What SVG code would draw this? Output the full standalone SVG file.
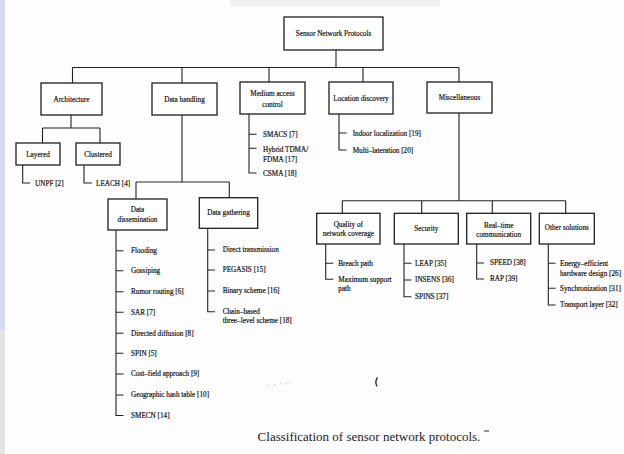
<svg xmlns="http://www.w3.org/2000/svg" width="624" height="454" viewBox="0 0 624 454">
<style>
.box{fill:#fff;stroke:#1e1e1e;stroke-width:1.3}
.ln{fill:none;stroke:#222;stroke-width:1.1}
text{font-family:"Liberation Serif","Times New Roman",serif;font-size:7.2px;fill:#111;stroke:#111;stroke-width:0.18}
.c{text-anchor:middle}
.cap{font-size:13px;fill:#222;stroke:none}
</style>
<rect width="624" height="454" fill="#fdfdfd"/>
<rect x="0" y="0" width="5" height="330" fill="#d6daf2"/>
<rect x="0" y="330" width="5" height="124" fill="#e4e4e4"/>
<rect x="230" y="0" width="210" height="6" fill="#f0f0f0"/>
<g id="connectors">
<path class="ln" d="M336 50V67.5M72.5 67.5H459M72.5 67.5V83M182 67.5V83M269 67.5V82M363 67.5V82M459 67.5V82"/>
<path class="ln" d="M71 115V128M42.5 128H100M42.5 128V143M100 128V143"/>
<path class="ln" d="M22.7 165V183H30M84 165V183H92"/>
<path class="ln" d="M249 114V173H256.5M249 134.3H256.5M249 148.3H256.5"/>
<path class="ln" d="M339 114V150H346.5M339 133H346.5"/>
<path class="ln" d="M182 115V182M136 182H229.3M136 182V199M229.3 182V197.7"/>
<path class="ln" d="M116 230V415.5H123.5M116 250.7H123.5M116 270.7H123.5M116 291.7H123.5M116 312.3H123.5M116 333.3H123.5M116 353.3H123.5M116 374H123.5M116 395H123.5"/>
<path class="ln" d="M207.7 228.3V311.7H215M207.7 250H215M207.7 270H215M207.7 291H215"/>
<path class="ln" d="M459 113V200.7M342.3 200.7H565.7M342.3 200.7V213.3M421.7 200.7V213.3M492.3 200.7V213.3M565.7 200.7V213.3"/>
<path class="ln" d="M325.7 244V279.3H333.3M325.7 263.3H333.3"/>
<path class="ln" d="M404 244V296.7H411.5M404 263.3H411.5M404 280H411.5"/>
<path class="ln" d="M476.7 244V279H484M476.7 263H484"/>
<path class="ln" d="M548.3 244V305H555.5M548.3 263.3H555.5M548.3 288.3H555.5"/>
</g>
<g id="root"><rect class="box" x="284" y="17" width="99" height="33"/><text class="c" x="333.5" y="36">Sensor Network Protocols</text></g>
<g id="architecture"><rect class="box" x="41" y="83" width="61" height="32"/><text class="c" x="71.5" y="101.5">Architecture</text></g>
<g id="data-handling"><rect class="box" x="152" y="83" width="65" height="32"/><text class="c" x="184.5" y="101.5">Data handling</text></g>
<g id="mac"><rect class="box" x="240" y="82" width="65" height="32"/><text class="c" x="272.5" y="95.7">Medium access</text><text class="c" x="272.5" y="107.4">control</text></g>
<g id="location"><rect class="box" x="329" y="82" width="64" height="32"/><text class="c" x="361" y="100.5">Location discovery</text></g>
<g id="misc"><rect class="box" x="427" y="82" width="65" height="31"/><text class="c" x="459.5" y="100">Miscellaneous</text></g>
<g id="layered"><rect class="box" x="16" y="143" width="44" height="22"/><text class="c" x="38" y="156.7">Layered</text></g>
<g id="clustered"><rect class="box" x="76" y="143" width="44" height="22"/><text class="c" x="98" y="156.7">Clustered</text></g>
<g id="architecture-items"><text x="35" y="185.5">UNPF [2]</text><text x="96" y="185.5">LEACH [4]</text></g>
<g id="mac-items"><text x="263" y="136.7">SMACS [7]</text><text x="263" y="152">Hybrid TDMA/</text><text x="263" y="161.7">FDMA [17]</text><text x="263" y="176.3">CSMA [18]</text></g>
<g id="location-items"><text x="352.7" y="135.5">Indoor localization [19]</text><text x="352.7" y="152.5">Multi–lateration [20]</text></g>
<g id="dissemination"><rect class="box" x="108" y="199" width="59" height="31"/><text class="c" x="137.5" y="212.4">Data</text><text class="c" x="137.5" y="221.9">dissemination</text></g>
<g id="gathering"><rect class="box" x="199.3" y="197.7" width="58.4" height="30.6"/><text class="c" x="228.5" y="214.9">Data gathering</text></g>
<g id="dissemination-items">
<text x="131" y="253.1">Flooding</text>
<text x="131" y="273.1">Gossiping</text>
<text x="131" y="294.1">Rumor routing [6]</text>
<text x="131" y="314.7">SAR [7]</text>
<text x="131" y="335.7">Directed diffusion [8]</text>
<text x="131" y="355.7">SPIN [5]</text>
<text x="131" y="376.4">Cost–field approach [9]</text>
<text x="131" y="397.4">Geographic hash table [10]</text>
<text x="131" y="417.9">SMECN [14]</text>
</g>
<g id="gathering-items">
<text x="222.7" y="252.4">Direct transmission</text>
<text x="222.7" y="272.4">PEGASIS [15]</text>
<text x="222.7" y="293.4">Binary scheme [16]</text>
<text x="222.7" y="313.6">Chain–based</text>
<text x="222.7" y="323.1">three–level scheme [18]</text>
</g>
<g id="quality"><rect class="box" x="316.7" y="213.3" width="63.3" height="30.7"/><text class="c" x="348.3" y="226.7">Quality of</text><text class="c" x="348.3" y="236.4">network coverage</text></g>
<g id="security"><rect class="box" x="394.3" y="213.3" width="64" height="30.7"/><text class="c" x="426.3" y="230.7">Security</text></g>
<g id="realtime"><rect class="box" x="466.7" y="213.3" width="64" height="30.7"/><text class="c" x="498.7" y="228.1">Real–time</text><text class="c" x="498.7" y="237.4">communication</text></g>
<g id="other"><rect class="box" x="539.3" y="213.3" width="55" height="30.7"/><text class="c" x="566.8" y="230.4">Other solutions</text></g>
<g id="quality-items"><text x="338.3" y="265.7">Breach path</text><text x="338.3" y="281.7">Maximum support</text><text x="338.3" y="290.7">path</text></g>
<g id="security-items"><text x="415" y="265.7">LEAP [35]</text><text x="415" y="282.4">INSENS [36]</text><text x="415" y="299.1">SPINS [37]</text></g>
<g id="realtime-items"><text x="490" y="265.4">SPEED [38]</text><text x="490" y="281.4">RAP [39]</text></g>
<g id="other-items"><text x="560" y="265.7">Energy–efficient</text><text x="560" y="275.7">hardware design [26]</text><text x="560" y="290.7">Synchronization [31]</text><text x="560" y="307.4">Transport layer [32]</text></g>
<g id="marks" fill="none" stroke="#333">
<path d="M377.5 377.5Q374.5 381.5 377 386.5" stroke-width="1.4"/>
<path d="M484 431H489" stroke-width="1"/>
<path d="M268 385.5h1M274 384.5h1M280 384h1M286 383h1M290 383h1" stroke="#bbb" stroke-width="1"/>
</g>
<text class="cap c" x="369" y="441">Classification of sensor network protocols.</text>
</svg>
